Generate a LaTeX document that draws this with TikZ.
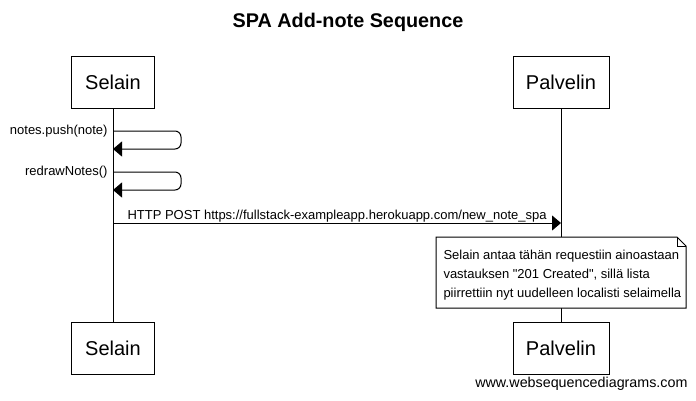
\documentclass[tikz,border=0pt]{standalone}
\usepackage{fontspec}
\setmainfont{Liberation Sans}[Ligatures=TeXOff]
\usetikzlibrary{arrows.meta}
\tikzset{
  actor/.style={draw, fill=white, minimum height=52pt, inner sep=0pt, font=\fontsize{20}{24}\selectfont},
  msg/.style={-{Triangle[length=9pt,width=15pt]}},
  lbl/.style={font=\fontsize{13}{15}\selectfont, inner sep=0pt}
}
\begin{document}
\begin{tikzpicture}[x=1pt,y=-1pt,line width=1pt]
\useasboundingbox (0,0) rectangle (696,400);
% title
\node[font=\bfseries\fontsize{19.8}{23}\selectfont] (title) at (348,22) {SPA Add-note Sequence};
% participants
\node[actor, minimum width=83pt] (selT) at (113,82) {Selain};
\node[actor, minimum width=96pt] (palT) at (561,82) {Palvelin};
\node[actor, minimum width=83pt] (selB) at (113,348) {Selain};
\node[actor, minimum width=96pt] (palB) at (561,348) {Palvelin};
\draw (selT.south) -- (selB.north);
\draw (palT.south) -- (palB.north);
% self messages
\coordinate (p1) at (113,131); \coordinate (p2) at (113,149);
\coordinate (r1) at (113,172); \coordinate (r2) at (113,190);
\node[lbl, anchor=east] (push) at (108,131) {notes.push(note)};
\draw[msg, rounded corners=6pt] (p1) -- (181,131) -- (181,149) -- (p2);
\node[lbl, anchor=east] (redraw) at (108,172) {redrawNotes()};
\draw[msg, rounded corners=6pt] (r1) -- (181,172) -- (181,190) -- (r2);
% request
\coordinate (h1) at (113,223); \coordinate (h2) at (561,223);
\draw[msg] (h1) -- (h2);
\node[lbl, anchor=base west] (post) at (127,219) {HTTP POST https://fullstack-exampleapp.herokuapp.com/new\_note\_spa};
% note
\filldraw[fill=white] (436,237) -- (677,237) -- (686,246) -- (686,308) -- (436,308) -- cycle;
\draw (677,237) -- (677,246) -- (686,246);
\node[lbl, anchor=base west] (n1) at (443,259) {Selain antaa tähän requestiin ainoastaan};
\node[lbl, anchor=base west] (n2) at (443,278) {vastauksen "201 Created", sillä lista};
\node[lbl, anchor=base west] (n3) at (443,297) {piirrettiin nyt uudelleen localisti selaimella};
% watermark
\node[font=\fontsize{14.3}{17}\selectfont, anchor=east, inner sep=0pt] (wsd) at (688,384) {www.websequencediagrams.com};
\end{tikzpicture}
\end{document}
